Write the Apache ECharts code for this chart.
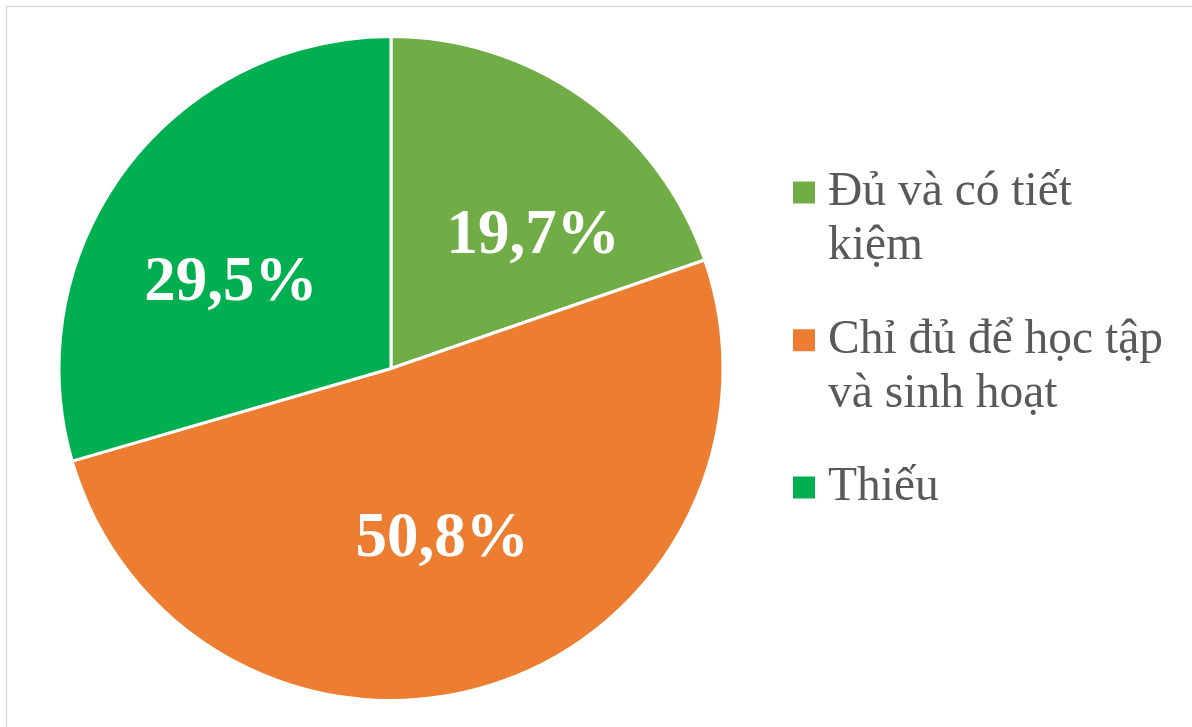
<!DOCTYPE html>
<html>
<head>
<meta charset="utf-8">
<style>
  html, body { margin: 0; padding: 0; background: #ffffff; }
  #chart { width: 1192px; height: 727px; }
</style>
<script src="https://cdn.jsdelivr.net/npm/echarts@6/dist/echarts.min.js"></script>
</head>
<body>
<div id="chart"></div>
<script>
// ---- data ----
const categories = ['Đủ và có tiết kiệm', 'Chỉ đủ để học tập và sinh hoạt', 'Thiếu'];
const values = [19.7, 50.8, 29.5];
const legendLabels = ['Đủ và có tiết\nkiệm', 'Chỉ đủ để học tập\nvà sinh hoạt', 'Thiếu'];

// ---- styles ----
const colors = ['#70AD47', '#ED7D31', '#00B050'];
const labelOffsets = [[44, 6], [0, 10], [-25, 17]];
const legendTops = [111.5, 259.3, 460.6];

const chart = echarts.init(document.getElementById('chart'), null, { renderer: 'canvas' });

const legends = categories.map(function (name, i) {
  const multi = legendLabels[i].indexOf('\n') >= 0;
  return {
    orient: 'vertical',
    left: 791,
    top: legendTops[i],
    padding: 0,
    icon: 'rect',
    itemWidth: 24,
    itemHeight: 24,
    selectedMode: false,
    data: [name],
    formatter: function () { return (multi ? '\n' : '') + legendLabels[i]; },
    textStyle: {
      fontFamily: '"Liberation Serif", "Times New Roman", serif',
      fontSize: 47.5,
      lineHeight: 54,
      color: '#595959',
      padding: [0, 0, 0, 7]
    }
  };
});

const option = {
  backgroundColor: '#ffffff',
  animation: false,
  color: colors,
  legend: legends,
  graphic: [{
    type: 'rect',
    shape: { x: 6.5, y: 6.5, width: 1300, height: 900 },
    style: { fill: 'none', stroke: '#D9D9D9', lineWidth: 1.5 },
    silent: true,
    z: -10
  }],
  series: [{
    type: 'pie',
    center: [391, 368.5],
    radius: [0, 332],
    startAngle: 90,
    clockwise: true,
    avoidLabelOverlap: false,
    emphasis: { disabled: true },
    itemStyle: { borderColor: '#ffffff', borderWidth: 3 },
    label: {
      show: true,
      position: 'inside',
      color: '#ffffff',
      fontFamily: '"Liberation Serif", "Times New Roman", serif',
      fontWeight: 'bold',
      fontSize: 63,
      formatter: function (p) { return p.value.toFixed(1).replace('.', ',') + '%'; }
    },
    labelLine: { show: false },
    data: categories.map(function (name, i) {
      return { name: name, value: values[i], label: { offset: labelOffsets[i] } };
    })
  }]
};

chart.setOption(option);
</script>
</body>
</html>
